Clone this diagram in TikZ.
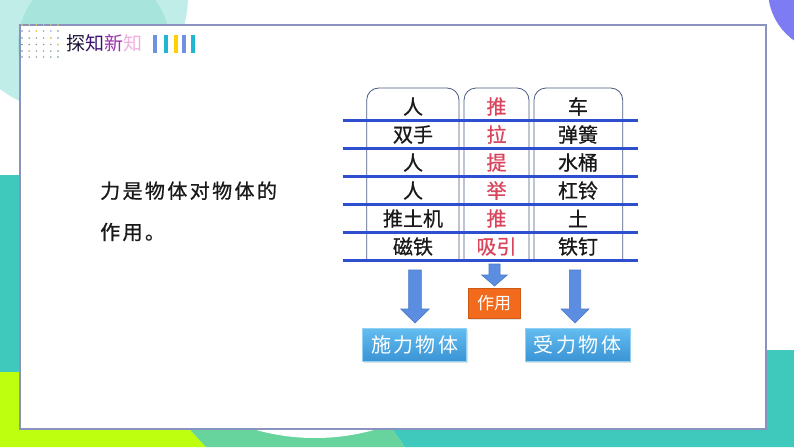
\documentclass[tikz,border=0pt]{standalone}
\usepackage{fontspec}
\newfontfamily\cjk{Noto Sans CJK SC}
\newfontfamily\cjkbold[FakeBold=0.7]{Noto Sans CJK SC}
\newfontfamily\cjkls[LetterSpace=12]{Noto Sans CJK SC}
\newfontfamily\cjklsbold[LetterSpace=12,FakeBold=0.7]{Noto Sans CJK SC}
\usetikzlibrary{shadows}
\definecolor{lightteal}{HTML}{C0EDE8}
\definecolor{midteal}{HTML}{A6E4DC}
\definecolor{tealbg}{HTML}{3FC9BC}
\definecolor{limebg}{HTML}{BEFF10}
\definecolor{greenbg}{HTML}{66D49C}
\definecolor{purpbg}{HTML}{7D7CF2}
\definecolor{panelline}{HTML}{8A92C0}
\definecolor{rulecol}{HTML}{2E4ED0}
\definecolor{colbox}{HTML}{4A5A80}
\definecolor{redtxt}{HTML}{D8455C}
\definecolor{arrowfill}{HTML}{5B8EE0}
\definecolor{arrowedge}{HTML}{4A78C8}
\definecolor{bluetop}{HTML}{63BDF0}
\definecolor{bluebot}{HTML}{3A93D4}
\definecolor{orangebox}{HTML}{F26A1C}
\definecolor{dotgray}{HTML}{6F8A9A}
\definecolor{dotyellow}{HTML}{F2D24A}
\definecolor{barblue}{HTML}{7090E0}
\definecolor{barteal}{HTML}{20B8D0}
\definecolor{baryellow}{HTML}{FFD000}
\definecolor{tA}{HTML}{1A1030}
\definecolor{tB}{HTML}{3C1470}
\definecolor{tC}{HTML}{9B2FAE}
\definecolor{tD}{HTML}{F0B0E0}
\newcommand{\blkarrow}[6]{%
  \filldraw[fill=arrowfill,draw=arrowedge,line width=0.6pt]
    ({#1-#2},#4) -- ({#1+#2},#4) -- ({#1+#2},#5) -- ({#1+#3},#5) --
    (#1,#6) -- ({#1-#3},#5) -- ({#1-#2},#5) -- cycle;}
\begin{document}
\begin{tikzpicture}[x=1pt,y=-1pt,
  cell/.style={inner sep=0pt,font=\cjkbold\fontsize{20}{20}\selectfont,text=black!90},
  redcell/.style={cell,text=redtxt},
  colframe/.style={draw=colbox,line width=0.8pt,rounded corners=12pt},
  tablerule/.style={draw=rulecol,line width=2.4pt},
  bluebox/.style={top color=bluetop,bottom color=bluebot,draw=bluetop!70!white,line width=0.5pt,
    minimum width=104pt,minimum height=33.4pt,inner sep=0pt,text=white,
    font=\cjkls\fontsize{20}{20}\selectfont,
    drop shadow={opacity=0.25,shadow xshift=1pt,shadow yshift=-1.5pt}},
  orangenode/.style={fill=orangebox,draw=orangebox!85!black,line width=0.4pt,
    minimum width=51.7pt,minimum height=30pt,inner sep=0pt,text=white,
    font=\cjk\fontsize{17}{17}\selectfont,
    drop shadow={opacity=0.2,shadow xshift=1pt,shadow yshift=-1.5pt}},
  plaintext/.style={inner sep=0pt,anchor=west,font=\cjklsbold\fontsize{20}{20}\selectfont,text=black!90}
]
\useasboundingbox (0,0) rectangle (794,447);
% ---------- background ----------
\fill[white] (0,0) rectangle (794,447);
\fill[lightteal] (70.5,-5) circle (117.6);
\fill[midteal] (94,45) circle (76);
\fill[purpbg] (830,-10) circle (62);
\fill[tealbg] (0,175) rectangle (30,372);
\fill[limebg] (0,372) rectangle (30,447);
\fill[limebg] (0,420) -- (181,420) -- (206,447) -- (0,447) -- cycle;
\fill[greenbg] (181,420) -- (386,420) -- (405,447) -- (206,447) -- cycle;
\fill[tealbg] (386,420) -- (794,420) -- (794,447) -- (405,447) -- cycle;
\fill[tealbg] (750,350) rectangle (794,447);
\begin{scope}
  \clip (0,405) rectangle (794,447);
  \fill[white] (315,220) circle (218);
\end{scope}
% ---------- panel ----------
\filldraw[fill=white,draw=panelline,line width=1.2pt] (20,25) rectangle (766,429);
% dots
\foreach \cx in {22,29.2,36.4,43.6,50.8,58}{
  \foreach \cy in {31,38,44.5,51,57}{
    \fill[dotgray] (\cx,\cy) circle (0.8);
  }
  \fill[dotyellow] (\cx,25) circle (0.8);
}
\fill[dotyellow] (36.4,31) circle (0.9);
\fill[dotyellow] (50.8,38) circle (0.9);
\fill[dotyellow] (58,44.5) circle (0.9);
\fill[dotyellow] (29.2,51) circle (0.9);
% title
\node[inner sep=0pt,anchor=west,font=\cjk\fontsize{19}{19}\selectfont] (title) at (66,43.5)
  {\textcolor{tA}{探}\textcolor{tB}{知}\textcolor{tC}{新}\textcolor{tD}{知}};
\fill[barblue] (153,35) rectangle (157,53);
\fill[barteal] (164,35) rectangle (168,53);
\fill[baryellow] (174,35) rectangle (177.5,53);
\fill[barblue] (182,35) rectangle (186,53);
\fill[barteal] (191,35) rectangle (194.5,53);
% left text
\node[plaintext] (def1) at (100,190.7) {力是物体对物体的};
\node[plaintext] (def2) at (100,232) {作用。};
% column frames
\draw[colframe] (366.7,261) -- (366.7,88) -- (459,88) -- (459,261);
\draw[colframe] (464,261) -- (464,88) -- (529,88) -- (529,261);
\draw[colframe] (534,261) -- (534,88) -- (622.7,88) -- (622.7,261);
% rules
\foreach \ry in {120.5,148.5,176.5,204.5,232.5,260.5}{
  \draw[tablerule] (343,\ry) -- (638,\ry);
}
% cells
\node[cell] (a1) at (413,106.5) {人};
\node[cell] (a2) at (413,134.5) {双手};
\node[cell] (a3) at (413,162.5) {人};
\node[cell] (a4) at (413,190.5) {人};
\node[cell] (a5) at (413,218.5) {推土机};
\node[cell] (a6) at (413,246.5) {磁铁};
\node[redcell] (b1) at (496.5,106.5) {推};
\node[redcell] (b2) at (496.5,134.5) {拉};
\node[redcell] (b3) at (496.5,162.5) {提};
\node[redcell] (b4) at (496.5,190.5) {举};
\node[redcell] (b5) at (496.5,218.5) {推};
\node[redcell] (b6) at (496.5,246.5) {吸引};
\node[cell] (c1) at (578,106.5) {车};
\node[cell] (c2) at (578,134.5) {弹簧};
\node[cell] (c3) at (578,162.5) {水桶};
\node[cell] (c4) at (578,190.5) {杠铃};
\node[cell] (c5) at (578,218.5) {土};
\node[cell] (c6) at (578,246.5) {铁钉};
% arrows
\blkarrow{415}{6.3}{14.2}{270}{309}{323}
\blkarrow{494.5}{5.5}{12.8}{264}{275}{286}
\blkarrow{575}{5.7}{14}{270}{309}{323}
% boxes
\node[orangenode] (act) at (494.2,303.3) {作用};
\node[bluebox] (giver) at (414.7,345) {施力物体};
\node[bluebox,minimum width=105pt] (taker) at (577.5,345) {受力物体};
\end{tikzpicture}
\end{document}
